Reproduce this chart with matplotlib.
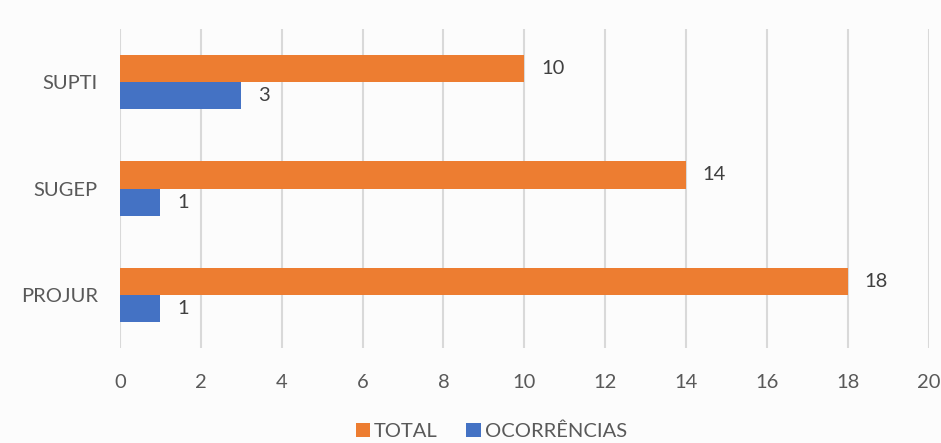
#!/usr/bin/env python3
"""Horizontal grouped bar chart: TOTAL vs OCORRÊNCIAS per unit."""

import matplotlib

matplotlib.use("Agg")
import matplotlib.pyplot as plt  # noqa: E402
import numpy as np  # noqa: E402

categories = ["PROJUR", "SUGEP", "SUPTI"]
total = [18, 14, 10]
ocorrencias = [1, 1, 3]
x_ticks = [0, 2, 4, 6, 8, 10, 12, 14, 16, 18, 20]

ORANGE = "#ED7D31"
BLUE = "#4472C4"
TEXT = "#595959"

plt.rcParams["font.family"] = ["Lato", "DejaVu Sans"]

fig = plt.figure(figsize=(9.41, 4.43), dpi=100, facecolor="#fcfcfc")
ax = fig.add_axes([0.1275, 0.2144, 0.8595, 0.72])
ax.set_facecolor("#fcfcfc")

y = np.arange(len(categories))
h = 0.255
b_tot = ax.barh(y + h / 2, total, h, color=ORANGE, label="TOTAL", zorder=3)
b_occ = ax.barh(y - h / 2, ocorrencias, h, color=BLUE, label="OCORRÊNCIAS", zorder=3)
ax.bar_label(b_tot, padding=12, fontsize=14.5, color="#404040")
ax.bar_label(b_occ, padding=12, fontsize=14.5, color="#404040")

ax.set_xlim(0, 20)
ax.set_ylim(-0.5, 2.5)
ax.set_xticks(x_ticks)
ax.set_yticks(y)
ax.set_yticklabels(categories)
ax.tick_params(axis="both", length=0, labelsize=14.5, labelcolor=TEXT)
ax.tick_params(axis="x", pad=19)
ax.tick_params(axis="y", pad=16)
ax.grid(axis="x", color="#d9d9d9", linewidth=1.5, zorder=0)
for s in ax.spines.values():
    s.set_visible(False)

fig.legend(handles=[b_tot, b_occ], loc="center", bbox_to_anchor=(0.522, 0.027),
           ncol=2, frameon=False, fontsize=14.5, labelcolor=TEXT,
           handlelength=0.72, handleheight=0.72, handletextpad=0.2,
           columnspacing=1.4, borderaxespad=0)

fig.savefig("out.png", dpi=100, facecolor=fig.get_facecolor())
